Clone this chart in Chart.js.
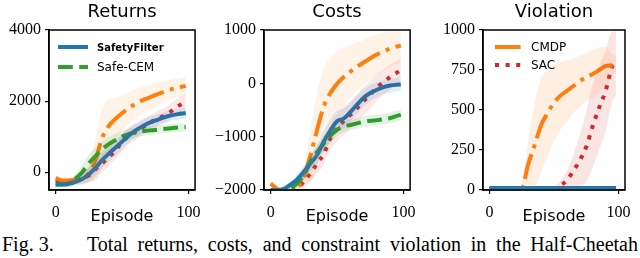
<!DOCTYPE html>
<html>
<head>
<meta charset="utf-8">
<script src="https://cdn.jsdelivr.net/npm/chart.js@4.4.1/dist/chart.umd.min.js"></script>
<style>
  body { margin: 0; width: 640px; height: 258px; background: #fff; position: relative; overflow: hidden; }
  canvas { position: absolute; top: 0; }
  .cap { position: absolute; top: 234px; font: 20px 'Liberation Serif', serif; line-height: 20px; color: #000; white-space: nowrap; }
</style>
</head>
<body>
<canvas id="retChart" style="left:0px" width="210" height="230"></canvas>
<canvas id="costChart" style="left:200px" width="225" height="230"></canvas>
<canvas id="vioChart" style="left:430px" width="210" height="230"></canvas>
<div class="cap" style="left:2px">Fig. 3.</div>
<div class="cap" id="capText" style="left:87px">Total returns, costs, and constraint violation in the Half-Cheetah</div>
<script>
// episodes where the curves were sampled
const episodes = [0, 5, 10, 15, 20, 25, 30, 35, 40, 45, 50, 55, 60, 65, 70, 75, 80, 85, 90, 95, 98];

// Returns
const retSafety = [-330, -330, -320, -270, -190, -60, 120, 340, 520, 690, 860, 1030, 1170, 1280, 1380, 1450, 1520, 1580, 1620, 1650, 1660];
const retCEM    = [-350, -350, -320, -180, 0, 250, 450, 640, 790, 900, 1000, 1070, 1120, 1150, 1170, 1190, 1210, 1230, 1250, 1260, 1270];
const retCMDP   = [-170, -230, -230, -220, -170, -30, 340, 960, 1300, 1500, 1660, 1800, 1920, 2020, 2090, 2170, 2240, 2310, 2360, 2400, 2430];
const retSAC    = [-230, -260, -260, -240, -190, -90, 80, 250, 420, 620, 840, 1020, 1130, 1250, 1370, 1470, 1560, 1660, 1800, 1920, 1980];
const retSafetySd = [60, 60, 80, 100, 150, 200, 220, 230, 230, 220, 210, 200, 190, 180, 170, 160, 150, 150, 150, 150, 150];
const retCEMSd    = [60, 60, 100, 150, 200, 250, 250, 230, 200, 180, 160, 150, 140, 130, 120, 120, 120, 120, 120, 120, 120];
const retCMDPSd   = [80, 80, 80, 100, 120, 250, 600, 800, 750, 600, 500, 450, 400, 380, 350, 330, 300, 280, 260, 250, 250];
const retSACSd    = [60, 60, 80, 100, 150, 200, 250, 250, 250, 250, 250, 240, 230, 220, 220, 220, 220, 220, 230, 240, 250];

// Costs
const costSafety = [-2000, -2000, -1980, -1900, -1800, -1660, -1500, -1340, -1090, -880, -710, -660, -540, -400, -270, -180, -120, -70, -40, -25, -20];
const costCEM    = [-2000, -2000, -2000, -1970, -1870, -1720, -1470, -1290, -1130, -980, -870, -810, -780, -750, -720, -700, -690, -670, -650, -610, -590];
const costCMDP   = [-1880, -1980, -2020, -2020, -1960, -1750, -1350, -870, -430, -180, -10, 120, 220, 310, 390, 470, 540, 600, 650, 690, 710];
const costSAC    = [-2030, -2030, -2030, -2020, -1970, -1840, -1690, -1500, -1320, -1030, -840, -710, -590, -470, -330, -210, -75, 20, 120, 200, 250];
const costSafetySd = [30, 30, 50, 80, 100, 120, 150, 180, 200, 200, 200, 190, 180, 170, 160, 150, 140, 130, 130, 130, 130];
const costCEMSd    = [30, 30, 40, 60, 80, 100, 120, 130, 130, 130, 120, 110, 100, 100, 100, 100, 100, 100, 100, 100, 100];
const costCMDPSd   = [60, 40, 40, 40, 60, 150, 500, 700, 700, 650, 600, 550, 500, 450, 420, 400, 380, 360, 340, 330, 320];
const costSACSd    = [30, 30, 30, 40, 60, 100, 150, 180, 200, 220, 250, 260, 260, 260, 260, 260, 250, 240, 230, 220, 220];

// Violation
const vioSafety = [12, 12, 12, 12, 12, 12, 12, 12, 12, 12, 12, 12, 12, 12, 12, 12, 12, 12, 12, 12, 12];
const vioCEM    = [8, 8, 8, 8, 8, 8, 8, 8, 8, 8, 8, 8, 8, 8, 8, 8, 8, 8, 8, 8, 8];
const vioCMDP   = [5, 5, 5, 5, 5, 10, 160, 280, 405, 480, 545, 590, 620, 650, 680, 705, 725, 750, 775, 780, 790];
const vioSAC    = [0, 0, 0, 0, 0, 0, 0, 0, 0, 0, 5, 30, 60, 120, 185, 270, 400, 515, 620, 770, 790];
const vioSafetySd = [12, 12, 12, 12, 12, 12, 12, 12, 12, 12, 12, 12, 12, 12, 12, 12, 12, 12, 12, 12, 12];
const vioCEMSd    = [6, 6, 6, 6, 6, 6, 6, 6, 6, 6, 6, 6, 6, 6, 6, 6, 6, 6, 6, 6, 6];
const vioCMDPSd   = [10, 10, 10, 10, 10, 30, 140, 260, 290, 270, 240, 210, 190, 170, 160, 150, 150, 140, 120, 70, 50];
const vioSACSd    = [0, 0, 0, 0, 0, 0, 0, 0, 0, 5, 10, 30, 60, 100, 160, 220, 260, 260, 250, 220, 200];

const returnTicks = [0, 2000, 4000];
const costTicks = [-2000, -1000, 0, 1000];
const vioTicks = [0, 250, 500, 750, 1000];
const episodeTicks = [0, 100];

const styles = {
  SafetyFilter: { color: '31,119,180', dash: [] },
  'Safe-CEM': { color: '44,160,44', dash: [14.8, 6.4] },
  CMDP: { color: '255,127,14', dash: [25.6, 6.4, 4, 6.4] },
  SAC: { color: '214,39,40', dash: [4, 6.6] }
};

const toPoints = (vals) => vals.map((v, i) => ({ x: episodes[i], y: v }));

const buildDatasets = (series) => {
  const bands = [];
  const lines = [];
  series.forEach(s => {
    const st = styles[s.label];
    bands.push({
      data: toPoints(s.values.map((v, i) => v + s.sd[i])),
      fill: '+1', backgroundColor: `rgba(${st.color},${s.alpha || 0.13})`,
      borderWidth: 0, pointRadius: 0, cubicInterpolationMode: 'monotone', clip: 0
    });
    bands.push({
      data: toPoints(s.values.map((v, i) => v - s.sd[i])),
      fill: false, borderWidth: 0, pointRadius: 0, cubicInterpolationMode: 'monotone', clip: 0
    });
    lines.push({
      label: s.label,
      data: toPoints(s.values),
      borderColor: `rgb(${st.color})`,
      borderDash: st.dash,
      borderWidth: 4,
      pointRadius: 0,
      fill: false,
      cubicInterpolationMode: 'monotone',
      clip: 0
    });
  });
  return bands.concat(lines);
};

const fmt = (v) => v < 0 ? '\u2212' + Math.abs(v) : String(v);

// frame, title, axis label and legend drawn on top of the chart
const panelDecor = {
  id: 'panelDecor',
  afterDraw(chart, args, opts) {
    const { ctx, chartArea: a } = chart;
    const cx = (a.left + a.right) / 2;
    ctx.save();
    ctx.strokeStyle = '#000';
    ctx.lineWidth = 1.5;
    ctx.strokeRect(a.left, a.top, a.right - a.left, a.bottom - a.top);
    ctx.fillStyle = '#000';
    ctx.textAlign = 'center';
    ctx.textBaseline = 'alphabetic';
    ctx.font = '18px "DejaVu Sans"';
    ctx.fillText(opts.title, cx, 17);
    ctx.font = '16px "DejaVu Sans"';
    ctx.fillText('Episode', cx, 221);
    (opts.legend || []).forEach((lab, i) => {
      const ds = chart.data.datasets.find(d => d.label === lab);
      const y = opts.legendY[i];
      ctx.save();
      ctx.strokeStyle = ds.borderColor;
      ctx.lineWidth = ds.borderWidth;
      ctx.setLineDash(ds.borderDash);
      ctx.beginPath();
      ctx.moveTo(a.left + opts.legendX[0], y);
      ctx.lineTo(a.left + opts.legendX[1], y);
      ctx.stroke();
      ctx.restore();
      ctx.textAlign = 'left';
      ctx.textBaseline = 'middle';
      ctx.font = lab === 'SafetyFilter' ? 'bold 10px "DejaVu Sans"' : '12px "DejaVu Sans"';
      ctx.fillText(lab, a.left + opts.legendX[2], y + 1);
    });
    ctx.restore();
  }
};

const makeChart = (id, cfg) => {
  const ctx = document.getElementById(id).getContext('2d');
  return new Chart(ctx, {
    type: 'line',
    data: { datasets: buildDatasets(cfg.series) },
    options: {
      responsive: false,
      animation: false,
      events: [],
      layout: { padding: { top: 30, right: cfg.padRight, left: 0, bottom: 0 } },
      plugins: {
        legend: { display: false },
        tooltip: { enabled: false },
        panelDecor: { title: cfg.title, legend: cfg.legend, legendX: cfg.legendX, legendY: cfg.legendY }
      },
      scales: {
        x: {
          type: 'linear', min: -5, max: 105,
          afterBuildTicks: s => { s.ticks = episodeTicks.map(v => ({ value: v })); },
          afterFit: s => { s.height = 40; },
          grid: { drawOnChartArea: false, drawTicks: true, tickLength: 4, color: '#000', lineWidth: 1.2 },
          border: { display: true, color: '#000', width: 1.5 },
          ticks: { color: '#000', font: { family: 'Liberation Serif', size: 16 }, padding: 9, maxRotation: 0 }
        },
        y: {
          type: 'linear', min: cfg.yMin, max: cfg.yMax,
          afterBuildTicks: s => { s.ticks = cfg.yTicks.map(v => ({ value: v })); },
          afterFit: s => { s.width = cfg.yWidth; },
          grid: { drawOnChartArea: false, drawTicks: true, tickLength: 4, color: '#000', lineWidth: 1.2 },
          border: { display: true, color: '#000', width: 1.5 },
          ticks: { color: '#000', font: { family: 'Liberation Serif', size: 16 }, padding: 4, callback: fmt }
        }
      }
    },
    plugins: [panelDecor]
  });
};

makeChart('retChart', {
  title: 'Returns', yMin: -500, yMax: 4000, yTicks: returnTicks, yWidth: 49, padRight: 13,
  legend: ['SafetyFilter', 'Safe-CEM'], legendX: [9, 39, 48], legendY: [47, 67],
  series: [
    { label: 'SafetyFilter', values: retSafety, sd: retSafetySd },
    { label: 'Safe-CEM', values: retCEM, sd: retCEMSd },
    { label: 'CMDP', values: retCMDP, sd: retCMDPSd, alpha: 0.1 },
    { label: 'SAC', values: retSAC, sd: retSACSd, alpha: 0.1 }
  ]
});

makeChart('costChart', {
  title: 'Costs', yMin: -2000, yMax: 1000, yTicks: costTicks, yWidth: 64, padRight: 12,
  series: [
    { label: 'SafetyFilter', values: costSafety, sd: costSafetySd },
    { label: 'Safe-CEM', values: costCEM, sd: costCEMSd },
    { label: 'CMDP', values: costCMDP, sd: costCMDPSd, alpha: 0.1 },
    { label: 'SAC', values: costSAC, sd: costSACSd, alpha: 0.1 }
  ]
});

makeChart('vioChart', {
  title: 'Violation', yMin: 0, yMax: 1000, yTicks: vioTicks, yWidth: 53, padRight: 10,
  legend: ['CMDP', 'SAC'], legendX: [12, 40, 48], legendY: [47, 65],
  series: [
    { label: 'SafetyFilter', values: vioSafety, sd: vioSafetySd, alpha: 0.5 },
    { label: 'Safe-CEM', values: vioCEM, sd: vioCEMSd },
    { label: 'CMDP', values: vioCMDP, sd: vioCMDPSd, alpha: 0.12 },
    { label: 'SAC', values: vioSAC, sd: vioSACSd, alpha: 0.12 }
  ]
});

// stretch the caption's word spacing so it runs to the right edge, like the justified original
const cap = document.getElementById('capText');
const capWidth = 551;
const natural = cap.getBoundingClientRect().width;
const gaps = cap.textContent.split(' ').length - 1;
cap.style.wordSpacing = ((capWidth - natural) / gaps) + 'px';
</script>
</body>
</html>
